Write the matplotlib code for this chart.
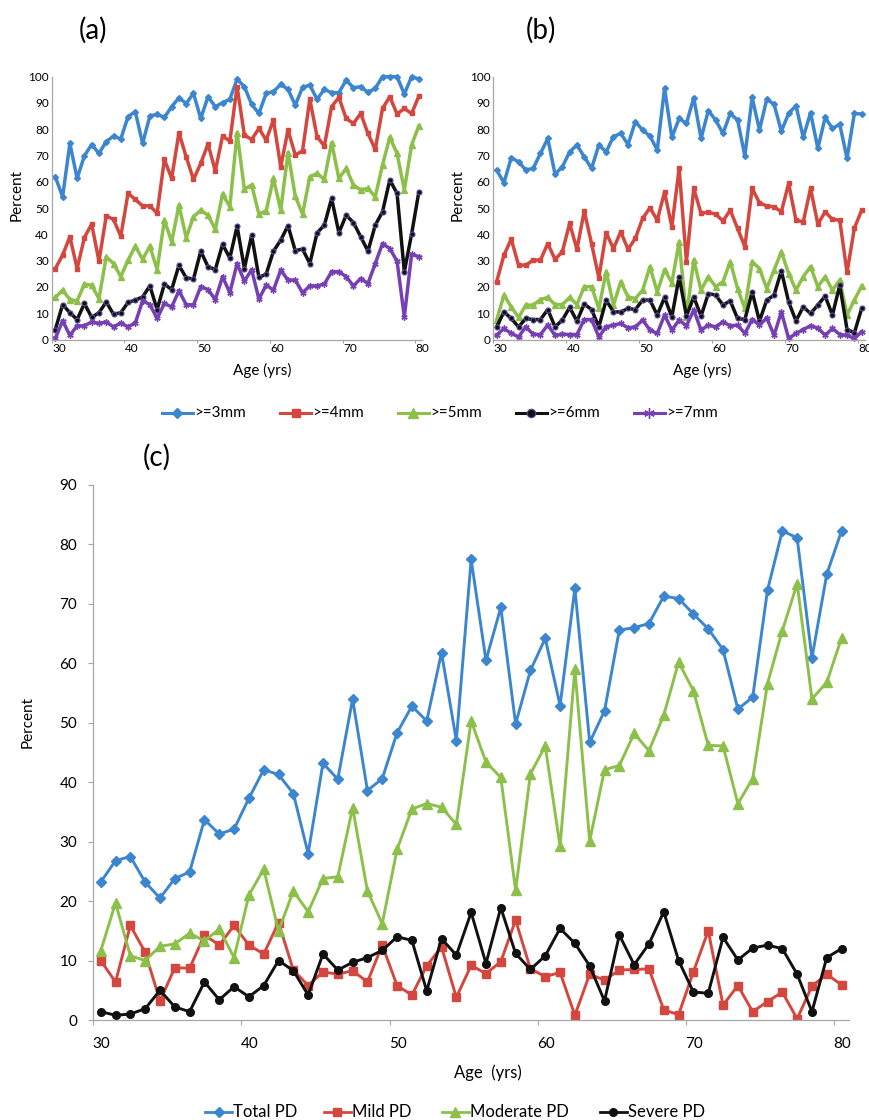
import matplotlib
matplotlib.use("Agg")
import matplotlib.pyplot as plt
from matplotlib.lines import Line2D

plt.rcParams['font.family'] = ['Lato', 'DejaVu Sans']

W, H = 870, 1120

# ages of each group (plotted in the middle of each year)
ages = list(range(30, 81))

# panel (a): % of subjects with at least one site >= N mm
a_3mm = [61.9, 54.3, 74.6, 61.3, 69.9, 74.2, 70.8, 75.3, 77.4, 76.3,
         84.8, 86.7, 74.6, 85.0, 85.7, 84.5, 88.6, 92.0, 89.8, 93.7,
         84.1, 92.4, 88.6, 90.1, 91.4, 99.1, 96.2, 89.5, 86.0, 93.7,
         94.3, 97.1, 95.2, 89.2, 95.9, 96.8, 91.4, 95.2, 93.9, 93.9,
         98.7, 95.8, 96.2, 94.0, 95.6, 100, 100, 100, 93.4, 100, 99.1]
a_4mm = [27.0, 32.1, 39.1, 27.0, 38.8, 43.9, 29.8, 47.0, 45.7, 39.3,
         55.6, 53.3, 50.8, 50.9, 48.0, 68.5, 61.3, 78.7, 69.5, 60.9,
         67.0, 74.4, 64.1, 77.4, 75.5, 96.2, 77.8, 76.1, 80.3, 75.9,
         83.5, 65.7, 79.7, 70.2, 71.8, 91.4, 77.2, 73.6, 88.6, 92.1,
         84.1, 82.2, 86.0, 78.4, 72.3, 87.9, 92.4, 85.8, 87.9, 86.0, 92.6]
a_5mm = [16.0, 18.8, 15.2, 14.7, 21.1, 20.6, 15.5, 31.5, 28.9, 23.9,
         30.2, 35.5, 30.5, 35.5, 26.6, 45.4, 37.2, 51.1, 38.7, 46.7,
         49.2, 47.3, 41.9, 55.3, 50.5, 78.7, 57.2, 58.8, 47.7, 49.0,
         61.3, 49.2, 71.1, 54.6, 47.7, 61.9, 63.2, 60.9, 74.9, 61.3,
         65.1, 58.8, 56.9, 57.5, 54.3, 66.4, 76.9, 70.8, 56.9, 74.0, 81.3]
a_6mm = [3.8, 13.3, 10.2, 7.6, 13.7, 8.4, 10.2, 14.3, 9.6, 10.2,
         14.1, 15.0, 16.2, 20.4, 11.4, 21.1, 19.0, 28.2, 23.5, 23.0,
         33.6, 27.7, 26.6, 36.2, 31.0, 43.1, 27.0, 39.7, 23.6, 24.9,
         33.6, 37.8, 43.3, 33.8, 34.4, 28.9, 40.6, 43.5, 53.7, 40.6,
         47.3, 44.5, 39.1, 33.6, 43.5, 48.6, 60.7, 55.6, 25.8, 40.1, 56.2]
a_7mm = [0.4, 7.1, 1.6, 5.2, 5.2, 6.7, 6.1, 6.7, 4.8, 6.3,
         4.8, 6.3, 14.7, 13.3, 8.0, 13.7, 12.4, 18.5, 13.3, 13.1,
         20.1, 19.0, 15.2, 23.9, 17.8, 28.9, 22.2, 26.6, 15.4, 20.7,
         18.8, 26.4, 22.6, 22.6, 17.8, 20.4, 20.4, 21.1, 25.8, 25.8,
         23.9, 20.4, 23.2, 21.3, 28.9, 36.5, 34.6, 29.8, 8.6, 32.4, 31.5]

# panel (b)
b_3mm = [64.5, 59.6, 69.2, 67.6, 64.5, 65.1, 70.8, 76.5, 62.9, 65.7,
         71.4, 74.0, 69.5, 65.1, 74.0, 71.4, 77.2, 78.4, 74.2, 82.9,
         79.7, 77.4, 72.1, 95.6, 76.9, 84.1, 82.2, 92.0, 76.5, 87.1,
         83.5, 78.4, 86.0, 83.5, 69.9, 92.1, 79.7, 91.4, 89.5, 79.3,
         86.0, 89.0, 76.9, 86.3, 72.7, 84.5, 80.3, 81.9, 68.9, 86.0, 85.8]
b_4mm = [22.0, 32.1, 38.2, 28.3, 28.3, 30.2, 30.2, 36.5, 30.5, 33.4,
         44.2, 34.3, 48.9, 36.5, 23.5, 40.6, 34.6, 41.0, 34.3, 38.5,
         46.1, 50.1, 45.4, 56.1, 42.9, 65.1, 29.6, 57.5, 48.0, 48.4,
         47.7, 45.1, 49.2, 42.3, 35.3, 57.5, 52.0, 50.8, 50.5, 48.6,
         59.4, 45.4, 44.8, 57.5, 43.9, 48.6, 45.7, 45.4, 25.5, 42.3, 49.2]
b_5mm = [7.4, 16.9, 12.4, 8.4, 13.1, 13.1, 15.2, 16.0, 13.3, 13.3,
         16.0, 13.3, 20.1, 20.1, 11.8, 25.8, 13.1, 22.0, 16.2, 15.6,
         18.8, 27.7, 18.1, 26.6, 21.6, 37.2, 8.6, 30.2, 18.8, 23.9,
         20.1, 22.0, 29.6, 19.4, 11.8, 29.6, 27.0, 19.4, 26.4, 33.4,
         25.1, 18.8, 23.9, 27.7, 20.1, 23.9, 18.8, 22.6, 9.3, 15.0, 20.3]
b_6mm = [4.8, 10.5, 8.0, 4.8, 8.0, 7.6, 7.6, 11.4, 4.8, 7.4,
         12.2, 7.0, 13.5, 11.4, 4.8, 15.0, 10.5, 10.5, 11.8, 11.4,
         15.0, 15.0, 9.3, 16.0, 8.6, 23.9, 8.9, 16.2, 8.9, 17.5,
         16.9, 13.1, 14.7, 8.0, 7.6, 18.1, 7.0, 15.0, 16.9, 26.1,
         14.3, 7.1, 12.4, 9.9, 13.1, 16.5, 9.3, 20.7, 3.8, 2.5, 11.8]
b_7mm = [1.6, 4.2, 2.3, 1.0, 4.8, 2.0, 1.9, 5.5, 1.6, 2.0,
         1.9, 1.9, 7.6, 7.6, 1.0, 4.8, 5.5, 6.1, 4.4, 4.8,
         7.4, 3.6, 2.3, 9.3, 3.6, 7.4, 5.2, 11.2, 3.6, 5.5,
         4.8, 6.7, 5.2, 5.5, 2.3, 7.6, 5.5, 8.2, 1.6, 10.5,
         0.4, 2.3, 3.8, 5.2, 4.4, 1.6, 4.2, 1.9, 1.6, 0.4, 2.9]

# panel (c): periodontitis severity
total_pd = [23.2, 26.8, 27.5, 23.2, 20.5, 23.8, 24.9, 33.7, 31.3, 32.1,
            37.3, 42.1, 41.3, 38.1, 28.0, 43.2, 40.5, 54.0, 38.6, 40.6,
            48.3, 52.8, 50.3, 61.8, 47.0, 77.5, 60.5, 69.4, 49.8, 58.8,
            64.2, 52.9, 72.6, 46.7, 52.0, 65.6, 66.0, 66.7, 71.3, 70.9,
            68.3, 65.8, 62.3, 52.3, 54.3, 72.3, 82.3, 81.1, 60.9, 75.0, 82.3]
mild_pd = [10.0, 6.4, 15.9, 11.4, 3.2, 8.8, 8.7, 14.3, 12.6, 15.9,
           12.6, 11.1, 16.4, 8.4, 5.8, 8.1, 7.7, 8.3, 6.4, 12.6,
           5.8, 4.2, 9.1, 12.3, 3.8, 9.2, 7.8, 9.8, 16.8, 8.6,
           7.3, 8.0, 0.8, 7.7, 6.7, 8.4, 8.5, 8.6, 1.7, 0.9,
           8.1, 15.0, 2.5, 5.8, 1.4, 3.1, 4.7, 0.2, 5.7, 7.7, 5.9]
moderate_pd = [11.6, 19.7, 10.8, 10.0, 12.4, 12.8, 14.6, 13.3, 15.3, 10.5,
               21.0, 25.4, 15.0, 21.7, 18.2, 23.8, 24.1, 35.7, 21.7, 16.2,
               28.7, 35.5, 36.4, 35.8, 32.9, 50.3, 43.4, 40.8, 21.8, 41.4,
               46.1, 29.2, 59.0, 30.1, 42.1, 42.8, 48.2, 45.3, 51.3, 60.2,
               55.4, 46.2, 46.1, 36.4, 40.6, 56.6, 65.5, 73.4, 54.0, 56.8, 64.3]
severe_pd = [1.4, 0.8, 1.0, 1.9, 5.0, 2.2, 1.4, 6.4, 3.4, 5.6,
             3.9, 5.8, 10.0, 8.3, 4.2, 11.1, 8.4, 9.7, 10.5, 11.7,
             14.0, 13.4, 4.9, 13.7, 10.9, 18.1, 9.5, 18.9, 11.2, 8.5,
             10.8, 15.4, 12.9, 9.1, 3.2, 14.3, 9.3, 12.8, 18.2, 10.0,
             4.7, 4.5, 13.9, 10.1, 12.1, 12.6, 12.0, 7.7, 1.4, 10.5, 12.0]

mm_labels = ['>=3mm', '>=4mm', '>=5mm', '>=6mm', '>=7mm']
pd_labels = ['Total PD', 'Mild PD', 'Moderate PD', 'Severe PD']

BLUE = '#3C86CF'
RED = '#D4473F'
GREEN = '#8CC04A'
BLACK = '#111111'
PURPLE = '#7640B4'
SPINE = '#A6A6A6'

mm_styles = [
    dict(color=BLUE, marker='D', ms=3.0),
    dict(color=RED, marker='s', ms=3.4),
    dict(color=GREEN, marker='^', ms=4.0),
    dict(color=BLACK, marker='o', ms=3.6, mfc=BLACK, mec='#5B4C9E', mew=0.8),
    dict(color=PURPLE, marker=(6, 2, 0), ms=4.5, mew=1.0),
]
pd_styles = [
    dict(color=BLUE, marker='D', ms=5.5),
    dict(color=RED, marker='s', ms=5.5),
    dict(color=GREEN, marker='^', ms=7),
    dict(color=BLACK, marker='o', ms=5.5),
]


def px_axes(x0, x1, y_top, y_bot):
    return fig.add_axes([x0 / W, 1 - y_bot / H, (x1 - x0) / W, (y_bot - y_top) / H])


def style_axes(ax, label_pad, fs, ylen, label_shift):
    for side in ['top', 'right']:
        ax.spines[side].set_visible(False)
    for side in ['left', 'bottom']:
        ax.spines[side].set_color(SPINE)
        ax.spines[side].set_linewidth(0.9)
    ax.set_xticks(range(30, 81, 10))
    ax.set_xticklabels([])
    ax.set_xticks([t + label_shift for t in range(30, 81, 10)], minor=True)
    ax.set_xticklabels([str(t) for t in range(30, 81, 10)], minor=True, fontsize=fs)
    ax.tick_params(axis='x', which='major', length=ylen, color=SPINE, direction='out')
    ax.tick_params(axis='x', which='minor', length=0, pad=label_pad)
    ax.tick_params(axis='y', labelsize=fs, color=SPINE, length=ylen)


def draw_mm(ax, series):
    x = [a + 0.5 for a in ages]
    for vals, st in zip(series, mm_styles):
        ax.plot(x, vals, lw=2.5, clip_on=False, **st)
    ax.set_xlim(30, 81)
    ax.set_ylim(0, 100)
    ax.set_yticks(range(0, 101, 10))
    style_axes(ax, 2.5, 8.5, 2.5, 1.0)
    ax.tick_params(axis='y', length=0, pad=2)


def legend_row(labels, styles, xs, y, seg, fs, lw, ms_scale):
    for lab, st, x0 in zip(labels, styles, xs):
        st = dict(st)
        st['ms'] = st['ms'] * ms_scale
        ln = Line2D([x0 / W, (x0 + seg / 2) / W, (x0 + seg) / W], [1 - y / H] * 3,
                    transform=fig.transFigure, lw=lw, markevery=[1], **st)
        fig.add_artist(ln)
        fig.text((x0 + seg + 1) / W, 1 - y / H, lab, fontsize=fs, va='center', ha='left')


fig = plt.figure(figsize=(8.7, 11.2), dpi=100)

ax_a = px_axes(51.7, 422.5, 76.7, 339.5)
draw_mm(ax_a, [a_3mm, a_4mm, a_5mm, a_6mm, a_7mm])
ax_b = px_axes(493.0, 865.3, 76.7, 339.5)
draw_mm(ax_b, [b_3mm, b_4mm, b_5mm, b_6mm, b_7mm])

fig.text(93 / W, 1 - 30 / H, '(a)', fontsize=20, ha='center', va='center')
fig.text(541 / W, 1 - 30 / H, '(b)', fontsize=20, ha='center', va='center')
fig.text(17 / W, 1 - 195 / H, 'Percent', fontsize=11, rotation=90, ha='center', va='center')
fig.text(458 / W, 1 - 195 / H, 'Percent', fontsize=11, rotation=90, ha='center', va='center')
fig.text(262 / W, 1 - 370 / H, 'Age (yrs)', fontsize=11, ha='center', va='center')
fig.text(702 / W, 1 - 370 / H, 'Age (yrs)', fontsize=11, ha='center', va='center')

legend_row(mm_labels, mm_styles, [162, 280, 398, 516, 634], 413, 31, 11, 2.2, 1.7)

# panel (c)
ax_c = px_axes(93.3, 849.0, 485.0, 1020.0)
xc = [a + 0.5 for a in ages]
for vals, st in zip([total_pd, mild_pd, moderate_pd, severe_pd], pd_styles):
    ax_c.plot(xc, vals, lw=2.1, **st)
ax_c.set_xlim(30, 81)
ax_c.set_ylim(0, 90)
ax_c.set_yticks(range(0, 91, 10))
style_axes(ax_c, 12, 11, 3.6, 0.55)
ax_c.tick_params(axis='y', pad=8)

fig.text(157 / W, 1 - 457 / H, '(c)', fontsize=20, ha='center', va='center')
fig.text(28 / W, 1 - 722 / H, 'Percent', fontsize=11, rotation=90, ha='center', va='center')
fig.text(488 / W, 1 - 1073 / H, 'Age  (yrs)', fontsize=12, ha='center', va='center')

legend_row(pd_labels, pd_styles, [205, 324, 442, 600], 1112, 27, 12, 2.0, 1.0)

fig.savefig('out.png', dpi=100)
